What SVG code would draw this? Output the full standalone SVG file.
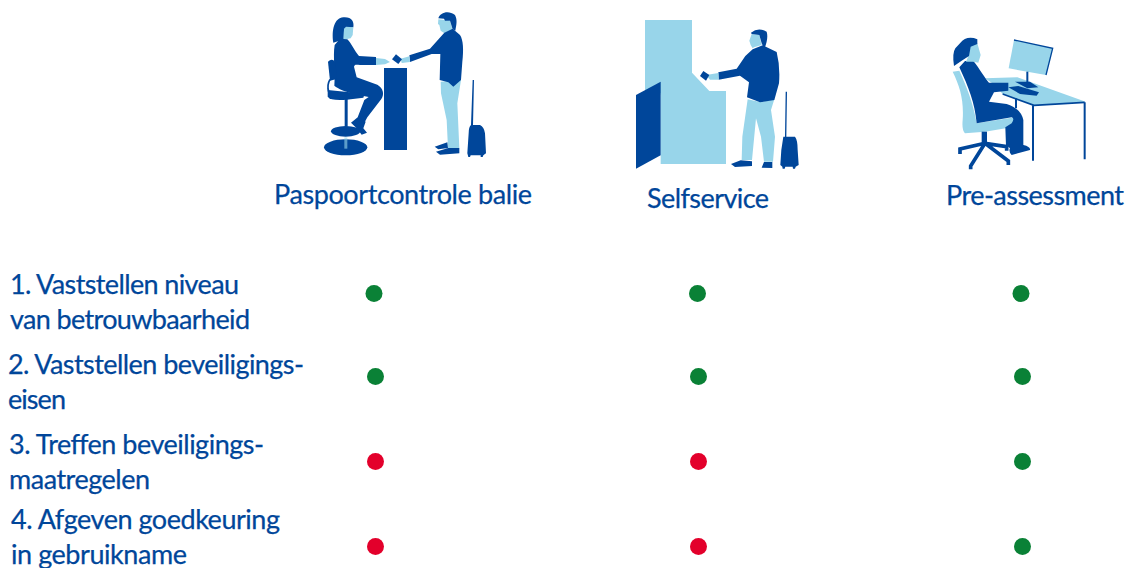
<svg xmlns="http://www.w3.org/2000/svg" width="1126" height="568" viewBox="0 0 1126 568">
<style>
text{font-family:"Lato","Noto Sans","Liberation Sans",sans-serif;font-size:27px;fill:#00469a;stroke:#00469a;stroke-width:.25px}
.d{fill:#00469a}.l{fill:#98d5ea}
.ds{fill:none;stroke:#00469a}
.g{fill:#0a8136}.r{fill:#e3002b}
</style>
<rect width="1126" height="568" fill="#fff"/>
<g id="node-balie">
<g transform="translate(310,0) scale(.33333)">
<path class="d" d="M70 128C64 90 73 54 100 52C125 50 133 65 130 82L108 86L102 116L88 122Z"/>
<path class="l" d="M102 86L108 80L130 82L128 105L122 115L108 118L100 116Z"/>
<path class="d" d="M90 116L112 118C125 130 134 155 147 168L198 171L198 195L150 195C140 195 135 192 132 200L140 232L202 254C220 265 224 282 214 297L172 352L164 367L143 352L163 300L176 291L130 282C105 274 85 267 73 257C77 220 68 170 74 135Z"/>
<path class="l" d="M198 174L225 177L240 186L225 193L198 195Z"/>
<path class="d" d="M123 368L145 350L167 365L160 385L171 398L155 404L140 385Z"/>
<path class="d" d="M53 270L150 280Q166 285 160 293L110 299Q62 303 53 290Z"/>
<path class="d" d="M54 185Q68 172 77 190L80 237L60 242Z"/>
<path class="ds" stroke-width="5" d="M60 238Q50 255 56 275"/>
<rect class="d" x="104" y="295" width="9" height="85"/>
<ellipse class="d" cx="107" cy="394" rx="44" ry="16"/>
<ellipse class="d" cx="107" cy="442" rx="65" ry="24"/>
<rect class="l" x="103" y="412" width="9" height="34" opacity=".6"/>
<rect class="d" x="222" y="204" width="69" height="246"/>
<path class="l" d="M385 58L405 60L420 62L428 90L405 98L403 100L392 92L388 75L384 72Z"/>
<path class="d" d="M385 55C390 38 415 30 435 45C443 60 439 75 436 92L428 88L420 62L405 62L402 56Z"/>
<path class="l" d="M392 245L453 240L442 310L448 445L414 445L410 360L393 280Z"/>
<path class="d" d="M403 98L428 86L450 105C460 120 461 150 457 185L453 240L430 260L415 247L389 240L391 162L365 162L300 186L298 166L360 146Z"/>
<path class="l" d="M272 176L298 169L300 186L275 189Z"/>
<path class="d" d="M246 178L258 163L276 178L265 192Z"/>
<path class="d" d="M374 440L412 427L414 444L385 448ZM378 455L415 444L448 444L448 460L390 464Z"/>
<path class="d" d="M488 240L492 240L489 375L510 375Q522 380 525 400L528 460L520 466L518 471H512V466H482L480 471H475L472 460L476 400Q476 380 483 375Z"/>
</g>
<text x="274" y="204" textLength="258">Paspoortcontrole balie</text>
</g>
<g id="node-selfservice">
<g transform="translate(620,10) scale(.33333)">
<path class="l" d="M75 30H216V188L268 243H318V462H122V250H75Z"/>
<path class="d" d="M48 255L122 215V436L48 476Z"/>
<path class="l" d="M395 72L418 75L425 105L402 112L398 115L392 105L388 92Z"/>
<path class="d" d="M393 68Q415 50 440 65Q446 85 433 117L425 100L418 75L395 72Z"/>
<path class="l" d="M383 268L420 276L463 268L453 300L465 380L459 455L432 455L423 380L408 325L396 450L365 450L367 380Z"/>
<path class="d" d="M398 118L428 106L470 126Q481 170 477 220L463 270L420 277L381 262L387 217L360 197L296 209L295 187L350 176L376 138Z"/>
<path class="l" d="M258 195L295 189L296 209L270 209Z"/>
<path class="d" d="M240 198L250 183L268 195L258 212Z"/>
<path class="d" d="M333 462L362 451L396 454L396 468L345 471ZM425 473L432 456L457 456L457 474Z"/>
<path class="d" d="M497 245H501L499 380H525Q533 390 533 420L536 465L527 470L525 476H519L518 470H496L494 476H488L487 470L481 465Q482 420 490 380H495Z"/>
</g>
<text x="647" y="208" textLength="122">Selfservice</text>
</g>
<g id="node-preassessment">
<g transform="translate(940,30) scale(.33333)">
<path class="l" d="M135 145L232 142L437 215L282 226L188 192L165 165Z"/>
<path class="ds" stroke-width="5" d="M188 192L282 226L434 217"/>
<path class="ds" stroke-width="6" d="M279 226V392M434 217V388M228 205V235"/>
<path class="l" d="M222 30L338 55L318 135L206 115Z"/>
<path class="ds" stroke-width="4" d="M222 30L338 55L318 135"/>
<rect class="d" x="259" y="125" width="6" height="35"/>
<path class="d" d="M225 155L270 155L295 172L262 175Z"/>
<path class="d" d="M205 172L235 168L297 187L290 197L240 192Z"/>
<path class="l" d="M38 125L58 122C80 170 100 220 110 280L225 262Q235 280 215 292L135 305L75 310Q65 300 68 270C72 210 60 170 38 125Z"/>
<path class="d" d="M58 112L75 93L100 93C118 115 135 145 147 158L205 158L205 182L162 187L147 215L200 222Q242 235 250 270L250 347L198 347L196 292L215 280Q225 265 215 262L110 280C105 220 85 170 58 112Z"/>
<path class="l" d="M85 50L112 40L122 75L115 98L100 95L78 95L85 78Z"/>
<path class="d" d="M60 40Q80 15 112 28L112 42L92 50L87 78L65 92L42 108Q36 70 46 55Z"/>
<path class="d" d="M198 345L250 345Q272 350 270 360L215 375Q205 365 210 355Z"/>
<rect class="d" x="125" y="305" width="16" height="36"/>
<path class="ds" stroke-width="11" d="M135 340L60 357V372M135 340L92 408V418M135 340L205 393V405M135 340L200 350V362"/>
</g>
<text x="946" y="205" textLength="178">Pre-assessment</text>
</g>
<g id="node-row1">
<text x="10" y="294" textLength="229">1. Vaststellen niveau</text>
<text x="10" y="329" textLength="240">van betrouwbaarheid</text>
<circle class="g" cx="374" cy="293.500" r="8.500"/><circle class="g" cx="697.500" cy="293.500" r="8.500"/><circle class="g" cx="1021" cy="293.500" r="8.500"/>
</g>
<g id="node-row2">
<text x="8" y="374" textLength="296">2. Vaststellen beveiligings-</text>
<text x="8" y="409" textLength="58">eisen</text>
<circle class="g" cx="375.500" cy="376.500" r="8.500"/><circle class="g" cx="698.500" cy="376.500" r="8.500"/><circle class="g" cx="1022.500" cy="376.500" r="8.500"/>
</g>
<g id="node-row3">
<text x="9" y="454" textLength="255">3. Treffen beveiligings-</text>
<text x="9" y="489" textLength="141">maatregelen</text>
<circle class="r" cx="375.500" cy="461.500" r="8.500"/><circle class="r" cx="698.500" cy="461.500" r="8.500"/><circle class="g" cx="1022.500" cy="461.500" r="8.500"/>
</g>
<g id="node-row4">
<text x="11" y="529" textLength="269">4. Afgeven goedkeuring</text>
<text x="11" y="564" textLength="176">in gebruikname</text>
<circle class="r" cx="375.500" cy="546.500" r="8.500"/><circle class="r" cx="698.500" cy="546.500" r="8.500"/><circle class="g" cx="1022.500" cy="546.500" r="8.500"/>
</g>
<g id="connectors"/>
</svg>
